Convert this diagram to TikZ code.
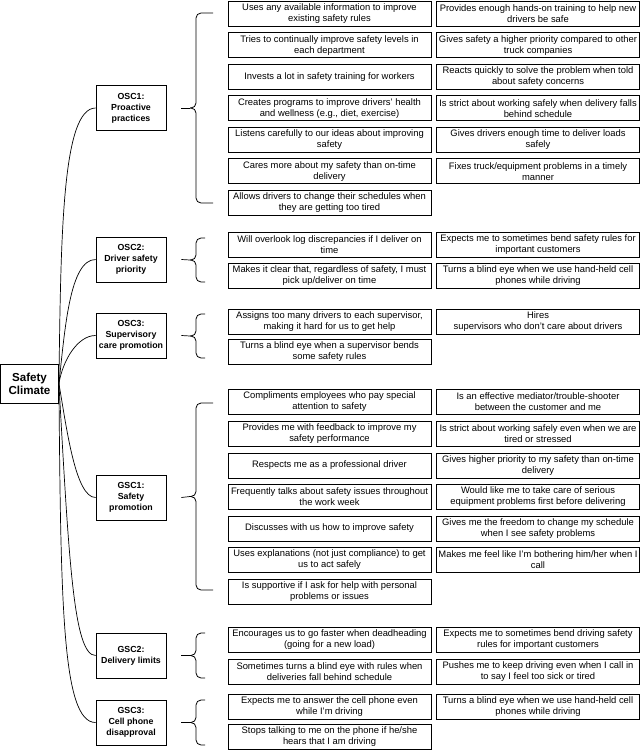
\documentclass[tikz,border=0pt]{standalone}
\usepackage{fontspec}
\setmainfont{Liberation Sans}
\usetikzlibrary{calc}

\tikzset{
  item/.style={draw, line width=0.8pt, minimum width=203pt, minimum height=25pt, inner sep=0pt, align=center, font=\fontsize{9.4}{11}\selectfont},
  cat/.style={draw, line width=0.8pt, minimum width=70pt, minimum height=45pt, inner sep=1pt, align=center, font=\fontsize{8.8}{11}\selectfont\bfseries},
  root/.style={draw, line width=0.8pt, minimum width=58pt, minimum height=39pt, inner sep=1pt, align=center, font=\fontsize{11.6}{13.3}\selectfont\bfseries},
  brc/.style={line width=0.8pt, rounded corners=5pt},
  link/.style={line width=0.7pt},
}

% brace of one group: tip name, x of the ends, top y, bottom y
\newcommand{\grpbrace}[4]{%
  \coordinate (#1) at (190,{(#3+#4)/2});
  \draw[brc] (#2,#3) -| ([xshift=6]#1) -- (#1);
  \draw[brc] (#2,#4) -| ([xshift=6]#1) -- (#1);
}

\begin{document}
\begin{tikzpicture}[x=1pt,y=1pt,yscale=-1]
\useasboundingbox (0,0) rectangle (640,750);

% Safety climate and the six scales
\node[root] (sc) at (29.5,383.5) {Safety\\Climate};
\node[cat] (osc1) at (131,108) {OSC1:\\Proactive\\practices};
\node[cat] (osc2) at (131,259.5) {OSC2:\\Driver safety\\priority};
\node[cat] (osc3) at (131,335.5) {OSC3:\\Supervisory\\care promotion};
\node[cat] (gsc1) at (131,497.5) {GSC1:\\Safety\\promotion};
\node[cat] (gsc2) at (131,655.5) {GSC2:\\Delivery limits};
\node[cat] (gsc3) at (131,722.5) {GSC3:\\Cell phone\\disapproval};

% curved links
\draw[link] (sc.east) .. controls +(2,-143.5) and +(-34,0) .. (osc1.west);
\draw[link] (sc.east) .. controls +(6,-53.5) and +(-26,0) .. (osc2.west);
\draw[link] (sc.east) .. controls +(4,-23.5) and +(-18,0) .. (osc3.west);
\draw[link] (sc.east) .. controls +(8,46.5) and +(-20,0) .. (gsc1.west);
\draw[link] (sc.east) .. controls +(10,176.5) and +(-22,0) .. (gsc2.west);
\draw[link] (sc.east) .. controls +(2,216.5) and +(-34,0) .. (gsc3.west);

% braces
\grpbrace{osc1tip}{213}{13}{203}
\grpbrace{osc2tip}{205}{238}{282}
\grpbrace{osc3tip}{205}{314}{358}
\grpbrace{gsc1tip}{213}{403}{590}
\grpbrace{gsc2tip}{205}{633}{678}
\grpbrace{gsc3tip}{205}{700}{745}

\draw[link] ([xshift=15]osc1.east) -- (osc1tip);
\draw[link] ([xshift=15]osc2.east) -- (osc2tip);
\draw[link] ([xshift=15]osc3.east) -- (osc3tip);
\draw[link] ([xshift=15]gsc1.east) -- (gsc1tip);
\draw[link] ([xshift=15]gsc2.east) -- (gsc2tip);
\draw[link] ([xshift=15]gsc3.east) -- (gsc3tip);

% OSC1 items
\node[item] (o1l1) at (329.5,13.75) {Uses any available information to improve\\existing safety rules};
\node[item] (o1l2) at (329.5,45.25) {Tries to continually improve safety levels in\\each department};
\node[item] (o1l3) at (329.5,76.75) {Invests a lot in safety training for workers};
\node[item] (o1l4) at (329.5,108.25) {Creates programs to improve drivers' health\\and wellness (e.g., diet, exercise)};
\node[item] (o1l5) at (329.5,139.75) {Listens carefully to our ideas about improving\\safety};
\node[item] (o1l6) at (329.5,171.25) {Cares more about my safety than on-time\\delivery};
\node[item] (o1l7) at (329.5,202.75) {Allows drivers to change their schedules when\\they are getting too tired};
\node[item] (o1r1) at (538,13.75) {Provides enough hands-on training to help new\\drivers be safe};
\node[item] (o1r2) at (538,45.25) {Gives safety a higher priority compared to other\\truck companies};
\node[item] (o1r3) at (538,76.75) {Reacts quickly to solve the problem when told\\about safety concerns};
\node[item] (o1r4) at (538,108.25) {Is strict about working safely when delivery falls\\behind schedule};
\node[item] (o1r5) at (538,139.75) {Gives drivers enough time to deliver loads\\safely};
\node[item] (o1r6) at (538,171.25) {Fixes truck/equipment problems in a timely\\manner};

% OSC2 items
\node[item] (o2l1) at (329.5,245) {Will overlook log discrepancies if I deliver on\\time};
\node[item] (o2l2) at (329.5,275.5) {Makes it clear that, regardless of safety, I must\\pick up/deliver on time};
\node[item] (o2r1) at (538,245) {Expects me to sometimes bend safety rules for\\important customers};
\node[item] (o2r2) at (538,275.5) {Turns a blind eye when we use hand-held cell\\phones while driving};

% OSC3 items
\node[item] (o3l1) at (329.5,322) {Assigns too many drivers to each supervisor,\\making it hard for us to get help};
\node[item] (o3l2) at (329.5,351.5) {Turns a blind eye when a supervisor bends\\some safety rules};
\node[item] (o3r1) at (538,322) {Hires\\supervisors who don't care about drivers};

% GSC1 items
\node[item] (g1l1) at (329.5,401.5) {Compliments employees who pay special\\attention to safety};
\node[item] (g1l2) at (329.5,433.5) {Provides me with feedback to improve my\\safety performance};
\node[item] (g1l3) at (329.5,465.5) {Respects me as a professional driver};
\node[item] (g1l4) at (329.5,496.5) {Frequently talks about safety issues throughout\\the work week};
\node[item] (g1l5) at (329.5,528.5) {Discusses with us how to improve safety};
\node[item] (g1l6) at (329.5,559.5) {Uses explanations (not just compliance) to get\\us to act safely};
\node[item] (g1l7) at (329.5,591.5) {Is supportive if I ask for help with personal\\problems or issues};
\node[item] (g1r1) at (538,401.5) {Is an effective mediator/trouble-shooter\\between the customer and me};
\node[item] (g1r2) at (538,433.5) {Is strict about working safely even when we are\\tired or stressed};
\node[item] (g1r3) at (538,465.5) {Gives higher priority to my safety than on-time\\delivery};
\node[item] (g1r4) at (538,496.5) {Would like me to take care of serious\\equipment problems first before delivering};
\node[item] (g1r5) at (538,528.5) {Gives me the freedom to change my schedule\\when I see safety problems};
\node[item] (g1r6) at (538,559.5) {Makes me feel like I'm bothering him/her when I\\call};

% GSC2 items
\node[item] (g2l1) at (329.5,639.5) {Encourages us to go faster when deadheading\\(going for a new load)};
\node[item] (g2l2) at (329.5,671.5) {Sometimes turns a blind eye with rules when\\deliveries fall behind schedule};
\node[item] (g2r1) at (538,639.5) {Expects me to sometimes bend driving safety\\rules for important customers};
\node[item] (g2r2) at (538,671.5) {Pushes me to keep driving even when I call in\\to say I feel too sick or tired};

% GSC3 items
\node[item] (g3l1) at (329.5,706.5) {Expects me to answer the cell phone even\\while I'm driving};
\node[item] (g3l2) at (329.5,737) {Stops talking to me on the phone if he/she\\hears that I am driving};
\node[item] (g3r1) at (538,706.5) {Turns a blind eye when we use hand-held cell\\phones while driving};

\end{tikzpicture}
\end{document}
